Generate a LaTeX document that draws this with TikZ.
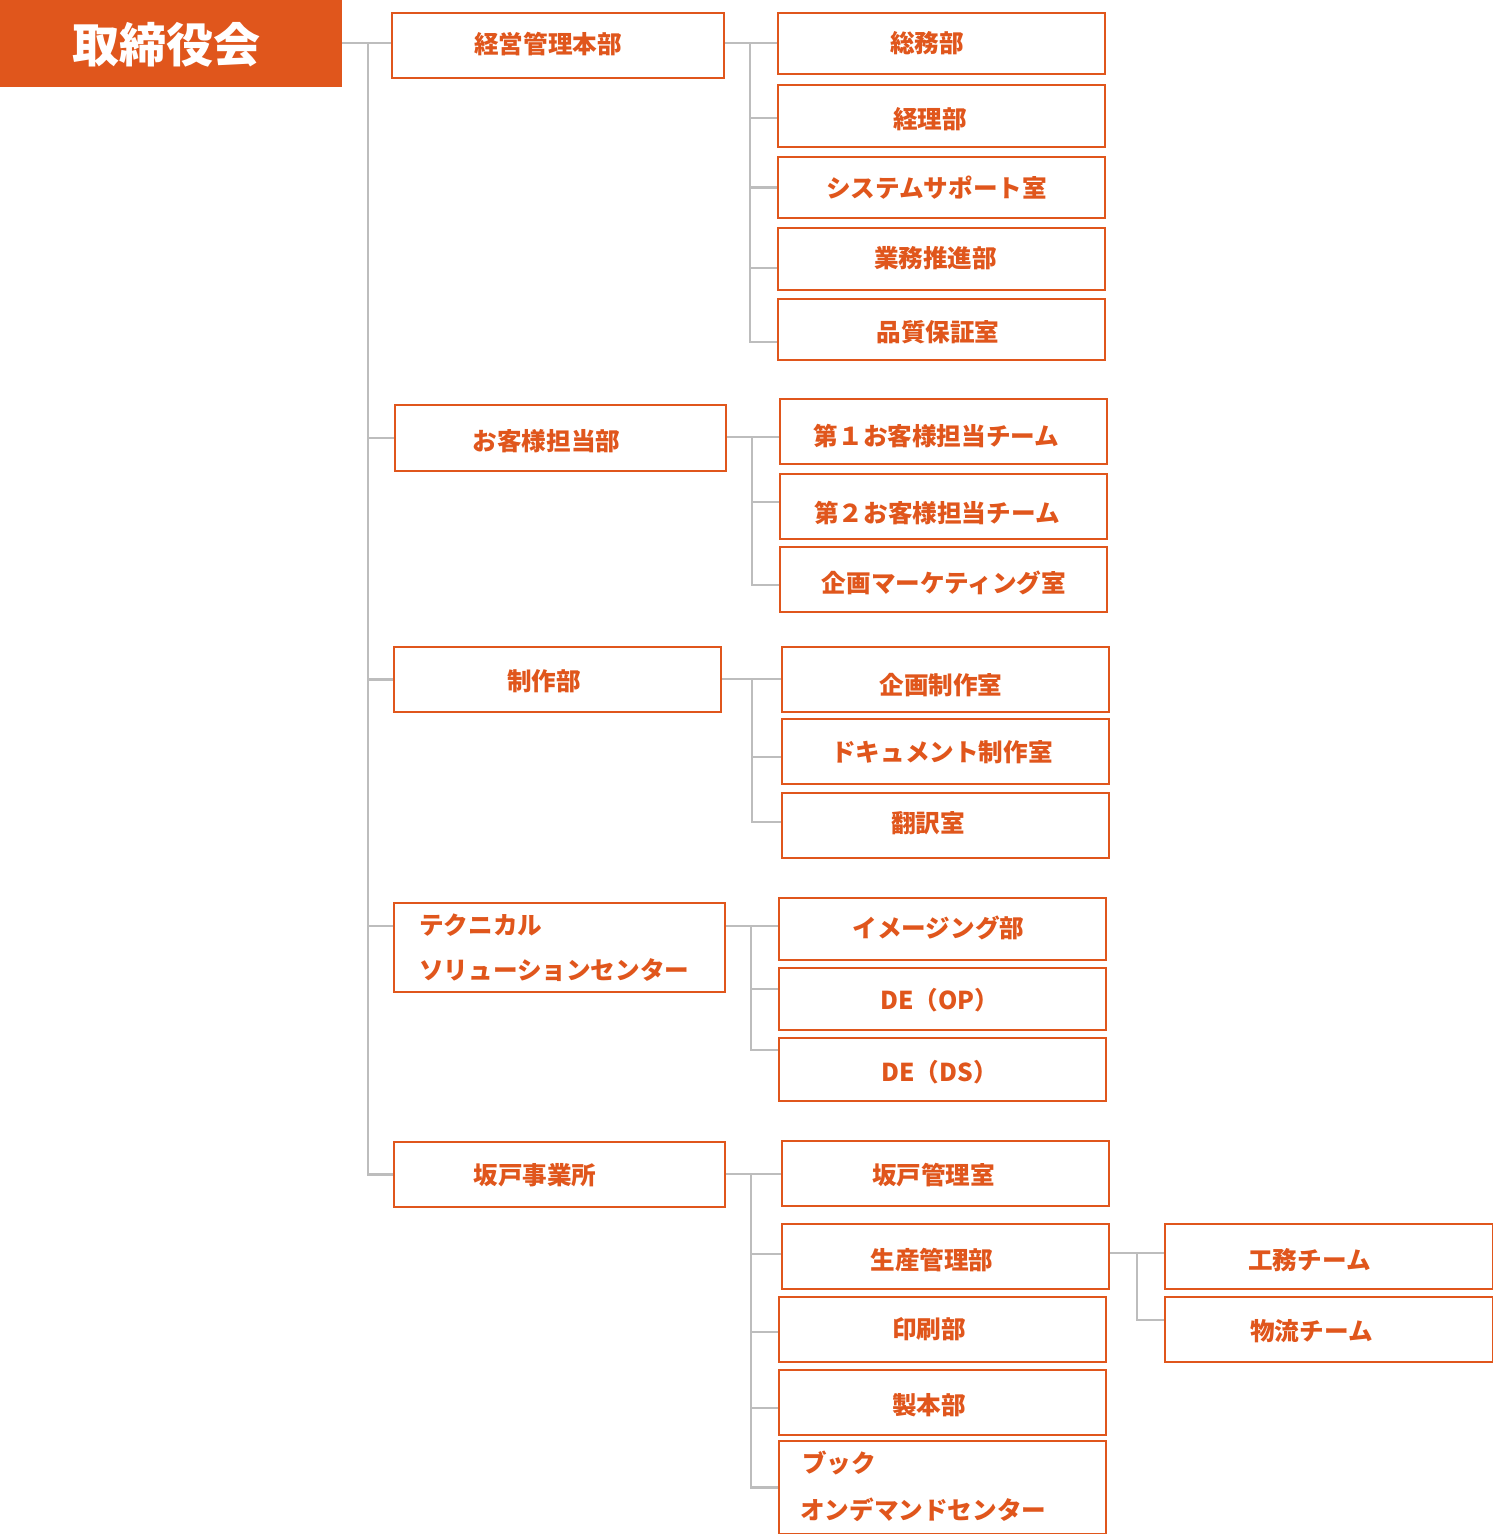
\documentclass[tikz,border=0pt]{standalone}
\usepackage{fontspec}
\newfontfamily\jpfont{Noto Sans CJK JP}
\definecolor{org}{HTML}{E0561C}
\definecolor{gry}{HTML}{BDBDBD}
\pgfdeclarelayer{bg}
\pgfsetlayers{bg,main}
\tikzset{
  box/.style={draw=org, line width=1.8pt, inner sep=0pt, fill=white, anchor=north west},
  topbox/.style={fill=org, draw=none, inner sep=0pt, anchor=north west},
  lbl/.style={text=org, font=\jpfont\bfseries\fontsize{24.6}{28}\selectfont, inner sep=0pt},
  toplbl/.style={text=white, font=\jpfont\bfseries\fontsize{47}{52}\selectfont, inner sep=0pt},
  conn/.style={draw=gry, line width=2.6pt},
}
\newcommand\bx[6][box]{\node[#1, minimum width={(#5-#3)*1pt}, minimum height={(#6-#4)*1pt}] (#2) at (#3,#4) {};}
\newcommand\tx[4]{\node[lbl] (#1) at (#2,#3) {#4};}
\begin{document}
\begin{tikzpicture}[x=1pt,y=-1pt]
\useasboundingbox (0,0) rectangle (1493,1534);
% top
\bx[topbox]{top}{0}{0}{342}{87}
\node[toplbl] (toptext) at (166.5,45) {取締役会};
% level 2
\bx{keiei}{391}{12}{723}{77}
\bx{okyaku}{394}{404}{725}{470}
\bx{seisaku}{393}{646}{720}{711}
\bx{tech}{393}{902}{724}{991}
\bx{sakado}{393}{1141}{724}{1206}
\tx{t-keiei}{548}{44}{経営管理本部}
\tx{t-okyaku}{546.5}{441}{お客様担当部}
\tx{t-seisaku}{544}{681}{制作部}
\node[lbl,anchor=west] (t-tech1) at (419,925) {テクニカル};
\node[lbl,anchor=west] (t-tech2) at (419,970) {ソリューションセンター};
\tx{t-sakado}{535}{1175}{坂戸事業所}
% group 1
\bx{soumu}{777}{12}{1104}{73}
\bx{keiri}{777}{84}{1104}{146}
\bx{system}{777}{156}{1104}{217}
\bx{gyomu}{777}{227}{1104}{289}
\bx{hinshitsu}{777}{298}{1104}{359}
\tx{t-soumu}{927}{43}{総務部}
\tx{t-keiri}{930}{119}{経理部}
\tx{t-system}{936.5}{188}{システムサポート室}
\tx{t-gyomu}{935.5}{258}{業務推進部}
\tx{t-hinshitsu}{938}{332}{品質保証室}
% group 2
\bx{dai1}{779}{398}{1106}{463}
\bx{dai2}{779}{473}{1106}{538}
\bx{kikakum}{779}{546}{1106}{611}
\tx{t-dai1}{936.5}{436}{第１お客様担当チーム}
\tx{t-dai2}{937}{513}{第２お客様担当チーム}
\tx{t-kikakum}{944}{583}{企画マーケティング室}
% group 3
\bx{kikakus}{781}{646}{1108}{711}
\bx{doc}{781}{718}{1108}{783}
\bx{honyaku}{781}{792}{1108}{857}
\tx{t-kikakus}{941}{685}{企画制作室}
\tx{t-doc}{942}{752}{ドキュメント制作室}
\tx{t-honyaku}{928}{823}{翻訳室}
% group 4
\bx{imaging}{778}{897}{1105}{959}
\bx{deop}{778}{967}{1105}{1029}
\bx{deds}{778}{1037}{1105}{1100}
\tx{t-imaging}{938.5}{928}{イメージング部}
\tx{t-deop}{939.5}{1000}{DE（OP）}
\tx{t-deds}{939.5}{1072}{DE（DS）}
% group 5
\bx{kanri}{781}{1140}{1108}{1205}
\bx{seisan}{781}{1223}{1108}{1288}
\bx{insatsu}{778}{1296}{1105}{1361}
\bx{seihon}{778}{1369}{1105}{1434}
\bx{book}{778}{1440}{1105}{1533}
\tx{t-kanri}{933.5}{1175}{坂戸管理室}
\tx{t-seisan}{932}{1260}{生産管理部}
\tx{t-insatsu}{929}{1329}{印刷部}
\tx{t-seihon}{929}{1405}{製本部}
\node[lbl,anchor=west] (t-book1) at (802,1463) {ブック};
\node[lbl,anchor=west] (t-book2) at (800,1510) {オンデマンドセンター};
% group 6
\bx{koumu}{1164}{1223}{1492}{1288}
\bx{butsuryu}{1164}{1296}{1492}{1361}
\tx{t-koumu}{1309.5}{1260}{工務チーム}
\tx{t-butsuryu}{1311.5}{1331}{物流チーム}
% connectors
\begin{pgfonlayer}{bg}
\coordinate (jt) at (368,43);
\coordinate (j1) at (750,43);
\coordinate (j2) at (752,437);
\coordinate (j3) at (752,679);
\coordinate (j4) at (751,926);
\coordinate (j5) at (751,1174);
\coordinate (j6) at (1137,1253);
% trunk
\draw[conn] (top.east |- jt) -- (jt);
\draw[conn] (jt) -- (jt -| keiei.west);
\draw[conn] (jt) |- (okyaku.west);
\draw[conn] (jt) |- (seisaku.west);
\draw[conn] (jt) |- ([yshift=21.5pt]tech.west);
\draw[conn] (jt) |- (sakado.west);
% group 1
\draw[conn] (keiei.east |- j1) -- (j1) -- (j1 -| soumu.west);
\draw[conn] (j1) |- ([yshift=-2pt]keiri.west);
\draw[conn] (j1) |- (system.west);
\draw[conn] (j1) |- ([yshift=-9pt]gyomu.west);
\draw[conn] (j1) |- ([yshift=-12.5pt]hinshitsu.west);
% group 2
\draw[conn] (okyaku.east |- j2) -- (j2) -- (j2 -| dai1.west);
\draw[conn] (j2) |- ([yshift=4.5pt]dai2.west);
\draw[conn] (j2) |- ([yshift=-5.5pt]kikakum.west);
% group 3
\draw[conn] (seisaku.east |- j3) -- (j3) -- (j3 -| kikakus.west);
\draw[conn] (j3) |- ([yshift=-5.5pt]doc.west);
\draw[conn] (j3) |- ([yshift=3.5pt]honyaku.west);
% group 4
\draw[conn] (tech.east |- j4) -- (j4) -- (j4 -| imaging.west);
\draw[conn] (j4) |- ([yshift=10pt]deop.west);
\draw[conn] (j4) |- ([yshift=19.5pt]deds.west);
% group 5
\draw[conn] (sakado.east |- j5) -- (j5) -- (j5 -| kanri.west);
\draw[conn] (j5) |- ([yshift=2.5pt]seisan.west);
\draw[conn] (j5) |- ([yshift=-2.5pt]insatsu.west);
\draw[conn] (j5) |- ([yshift=-5.5pt]seihon.west);
\draw[conn] (j5) |- (book.west);
% group 6
\draw[conn] (seisan.east |- j6) -- (j6) -- (j6 -| koumu.west);
\draw[conn] (j6) |- ([yshift=9.5pt]butsuryu.west);
\end{pgfonlayer}
\end{tikzpicture}
\end{document}
